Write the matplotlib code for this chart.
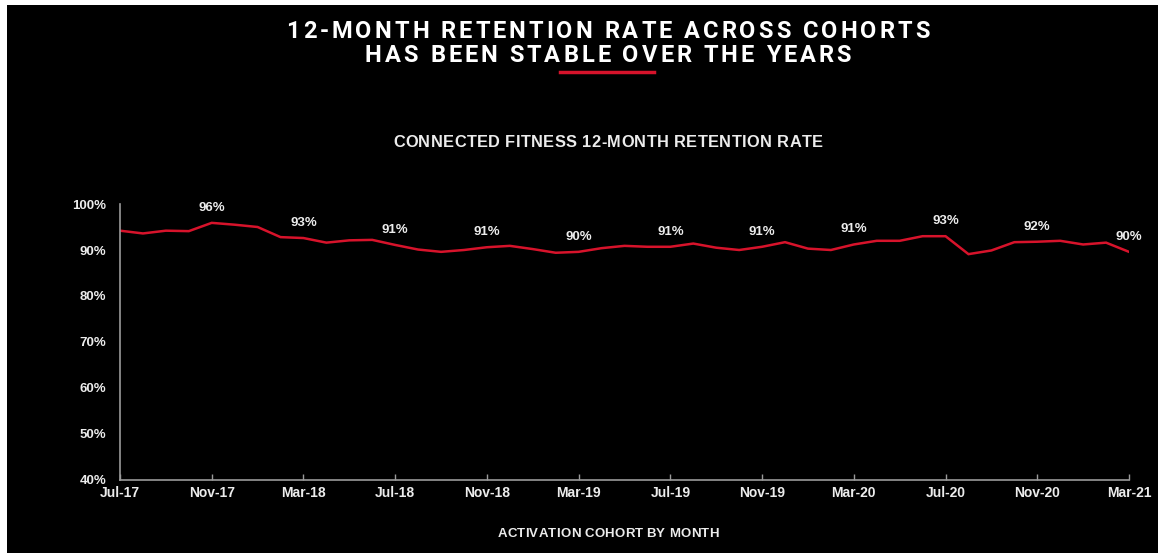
import matplotlib
matplotlib.use("Agg")
import matplotlib.pyplot as plt
from matplotlib.patches import Rectangle
from matplotlib.lines import Line2D

# data
months = ['Jul-17', 'Aug-17', 'Sep-17', 'Oct-17', 'Nov-17', 'Dec-17',
          'Jan-18', 'Feb-18', 'Mar-18', 'Apr-18', 'May-18', 'Jun-18',
          'Jul-18', 'Aug-18', 'Sep-18', 'Oct-18', 'Nov-18', 'Dec-18',
          'Jan-19', 'Feb-19', 'Mar-19', 'Apr-19', 'May-19', 'Jun-19',
          'Jul-19', 'Aug-19', 'Sep-19', 'Oct-19', 'Nov-19', 'Dec-19',
          'Jan-20', 'Feb-20', 'Mar-20', 'Apr-20', 'May-20', 'Jun-20',
          'Jul-20', 'Aug-20', 'Sep-20', 'Oct-20', 'Nov-20', 'Dec-20',
          'Jan-21', 'Feb-21', 'Mar-21']
retention = [94.2, 93.6, 94.2, 94.1, 95.9, 95.5,
             95.0, 92.8, 92.6, 91.6, 92.1, 92.2,
             91.1, 90.1, 89.6, 90.0, 90.6, 90.9,
             90.2, 89.4, 89.6, 90.4, 90.9, 90.7,
             90.7, 91.4, 90.5, 90.0, 90.7, 91.7,
             90.3, 90.0, 91.2, 92.0, 92.0, 93.0,
             93.0, 89.1, 89.9, 91.7, 91.8, 92.0,
             91.2, 91.6, 89.6]
yticks = [40, 50, 60, 70, 80, 90, 100]

W, H = 1158, 553
RED = '#d7132b'
TXT = '#ececec'
AXC = '#9a9a9a'

fig = plt.figure(figsize=(W/100, H/100), dpi=100, facecolor='white')
# black panel (thin white margin top/left like the slide grab)
fig.patches.append(Rectangle((7/W, 0), 1, 1 - 5/H, transform=fig.transFigure,
                             facecolor='black', edgecolor='none', zorder=-10))
renderer = fig.canvas.get_renderer()


def spaced_text(cx, cy, s, spacing, **kw):
    # draw text centred at pixel (cx, cy from top) with extra letter spacing
    widths = []
    for ch in s:
        t = fig.text(0, 0, ch, **kw)
        widths.append(t.get_window_extent(renderer).width)
        t.remove()
    total = sum(widths) + spacing * (len(s) - 1)
    xpos = cx - total / 2
    for ch, w in zip(s, widths):
        fig.text(xpos / W, 1 - cy / H, ch, ha='left', va='center', **kw)
        xpos += w + spacing


ax = fig.add_axes([120/W, 1 - 480/H, (1129 - 120)/W, (480 - 204)/H])
ax.set_facecolor('black')

x = list(range(len(months)))
ax.plot(x, retention, color=RED, lw=1.8, solid_joinstyle='miter')

ax.set_xlim(0, len(months) - 1)
ax.set_ylim(40, 100)

tick_idx = x[::4]
ax.set_xticks(tick_idx)
ax.set_xticklabels([months[i] for i in tick_idx])
ax.set_yticks(yticks)
ax.set_yticklabels([f'{v}%' for v in yticks])

for s in ['top', 'right']:
    ax.spines[s].set_visible(False)
for s in ['left', 'bottom']:
    ax.spines[s].set_color(AXC)
    ax.spines[s].set_linewidth(1.2)

ax.tick_params(axis='x', direction='in', length=4, width=1, color=AXC,
               labelcolor=TXT, labelsize=10, pad=4)
ax.tick_params(axis='y', length=0, labelcolor=TXT, labelsize=9.5, pad=10)
for lab in ax.get_xticklabels() + ax.get_yticklabels():
    lab.set_fontweight('bold')
    lab.set_family('Liberation Sans')

# data labels every 4 months (not the first)
for i in tick_idx[1:]:
    ax.annotate(f'{round(retention[i])}%', (i, retention[i]), xytext=(0, 15),
                textcoords='offset pixels', ha='center', va='center',
                color=TXT, fontsize=9.5, fontweight='bold', family='Liberation Sans')

spaced_text(608, 534, 'ACTIVATION COHORT BY MONTH', 0.2, color=TXT, fontsize=9.5,
            fontweight='bold', family='Liberation Sans')
spaced_text(608, 143, 'CONNECTED FITNESS 12-MONTH RETENTION RATE', 0.4, color=TXT,
            fontsize=11.8, fontweight='bold', family='Liberation Sans')

spaced_text(608, 31, '12-MONTH RETENTION RATE ACROSS COHORTS', 3.0,
            color='white', fontsize=17, fontweight='bold', family='Roboto')
spaced_text(608, 55, 'HAS BEEN STABLE OVER THE YEARS', 3.0,
            color='white', fontsize=17, fontweight='bold', family='Roboto')
fig.lines.append(Line2D([560/W, 654/W], [1 - 72/H, 1 - 72/H],
                        transform=fig.transFigure, color=RED, lw=2.5))

fig.savefig('out.png', dpi=100, facecolor=fig.get_facecolor())
